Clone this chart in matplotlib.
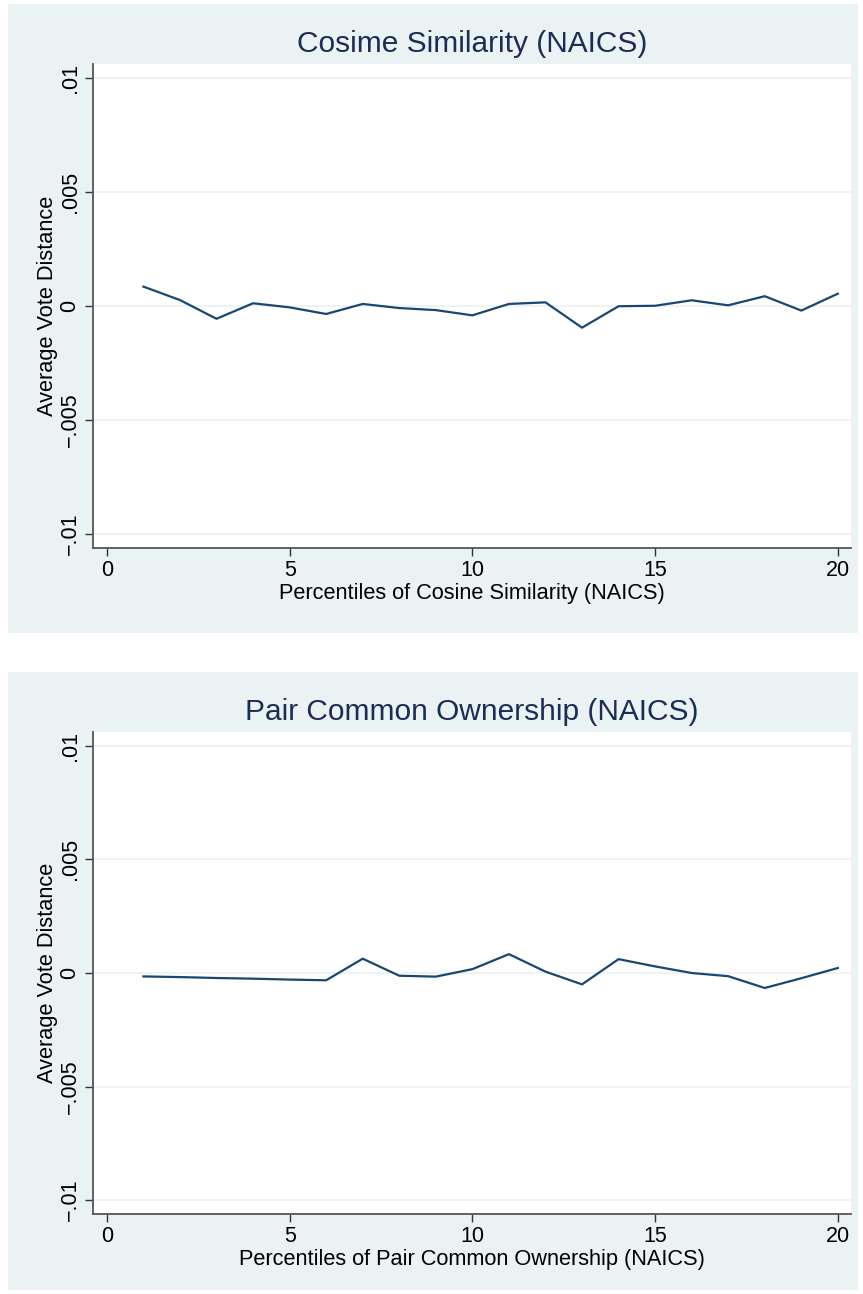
import numpy as np
import matplotlib
matplotlib.use("Agg")
import matplotlib.pyplot as plt
from matplotlib.patches import Rectangle

plt.rcParams['font.family'] = ['Liberation Sans', 'DejaVu Sans']

# percentiles 1..20
pct = list(range(1, 21))

# Average vote distance by percentile of cosine similarity
cos_sim = [0.00085, 0.00026, -0.00056, 0.00012, -0.00006, -0.00035, 0.00009,
           -0.00009, -0.00018, -0.00041, 0.00009, 0.00016, -0.00095, -0.00001,
           0.00001, 0.00025, 0.00003, 0.00043, -0.00020, 0.00054]

# Average vote distance by percentile of pair common ownership
pair_co = [-0.00015, -0.00018, -0.00022, -0.00025, -0.00029, -0.00032, 0.00063,
           -0.00012, -0.00016, 0.00017, 0.00083, 0.00006, -0.00050, 0.00061,
           0.00029, 0.00000, -0.00014, -0.00066, -0.00023, 0.00022]

xticks = [0, 5, 10, 15, 20]
yticks = [-0.01, -0.005, 0, 0.005, 0.01]
ytick_labels = ['\u2212.01', '\u2212.005', '0', '.005', '.01']

titles = ['Cosime Similarity (NAICS)', 'Pair Common Ownership (NAICS)']
xlabels = ['Percentiles of Cosine Similarity (NAICS)',
           'Percentiles of Pair Common Ownership (NAICS)']

bg = '#eaf2f3'
navy = '#1a476f'
W, H = 863, 1294

fig = plt.figure(figsize=(W / 100, H / 100), dpi=100)
fig.patch.set_facecolor('white')

# panel backgrounds (pixel boxes: x0, y0top, x1, y1bottom)
panels = [(8, 4, 858, 633), (8, 672, 858, 1290)]
plots = [(93, 64, 851, 548), (93, 732, 851, 1214)]
series = [cos_sim, pair_co]

for i in range(2):
    px0, py0, px1, py1 = panels[i]
    fig.patches.append(Rectangle((px0 / W, 1 - py1 / H), (px1 - px0) / W, (py1 - py0) / H,
                                 transform=fig.transFigure, facecolor=bg,
                                 edgecolor='none', zorder=-10))
    ax0, ay0, ax1, ay1 = plots[i]
    ax = fig.add_axes([ax0 / W, 1 - ay1 / H, (ax1 - ax0) / W, (ay1 - ay0) / H])
    ax.set_facecolor('white')
    ax.plot(pct, series[i], color=navy, lw=1.6)
    ax.set_xlim(-0.38, 20.36)
    ax.set_ylim(-0.01061, 0.01061)
    ax.set_xticks(xticks)
    ax.set_xticklabels([str(t) for t in xticks])
    ax.set_yticks(yticks)
    ax.set_yticklabels(ytick_labels, rotation=90, va='center')
    ax.grid(axis='y', color=bg, lw=1.2)
    ax.set_axisbelow(True)
    for s in ['top', 'right']:
        ax.spines[s].set_visible(False)
    for s in ['left', 'bottom']:
        ax.spines[s].set_color('#555555')
        ax.spines[s].set_linewidth(1.3)
    ax.tick_params(direction='out', length=6, width=1.0, color='#333333',
                   labelsize=15.5, labelcolor='black', pad=3)
    ax.set_xlabel(xlabels[i], fontsize=15.7, labelpad=1)
    ax.set_ylabel('Average Vote Distance', fontsize=15.7, labelpad=1)
    ax.set_title(titles[i], fontsize=21.5, color='#1c2d54', pad=9)

fig.savefig('out.png', dpi=100, facecolor='white')
